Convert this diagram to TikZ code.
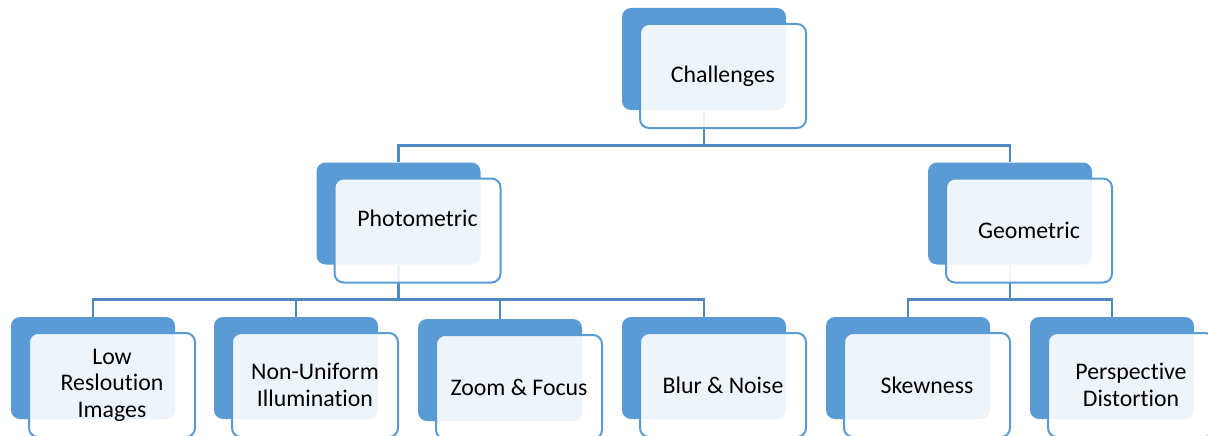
\documentclass[tikz,border=0pt]{standalone}
\usepackage{fontspec}
\setmainfont{Carlito}[Ligatures=NoCommon]
\usetikzlibrary{calc}

\definecolor{smblue}{RGB}{91,155,213}
\definecolor{smline}{RGB}{80,136,196}

\tikzset{
	backbox/.style={rectangle, rounded corners=9pt, fill=smblue, inner sep=0pt,
		minimum width=164pt, minimum height=102pt},
	frontbox/.style={rectangle, rounded corners=9pt, draw=smblue, line width=2pt,
		fill=white, fill opacity=0.9, inner sep=0pt,
		minimum width=166pt, minimum height=104pt},
	boxtext/.style={align=center, text=black, inner sep=0pt,
		font=\fontsize{23.8}{26.5}\selectfont},
	conn/.style={draw=smline, line width=2.6pt}
}

\newcommand{\chback}[3]{
	\node[backbox] (#1) at (#2,#3) {};
}
\newcommand{\chfront}[3]{
	\node[frontbox] (#1f) at ($(#1)+(19,17)$) {};
	\node[boxtext] (#1t) at ($(#1f)+(0,#3)$) {#2};
}

\begin{document}
\begin{tikzpicture}[x=1pt, y=-1pt]
\clip (0,0) rectangle (1208,436);

\pgfmathsetmacro{\rowA}{59}
\pgfmathsetmacro{\rowB}{213.5}
\pgfmathsetmacro{\rowC}{368}

\chback{chal}{704}{\rowA}
\chback{photo}{398.5}{\rowB}
\chback{geo}{1010}{\rowB}
\chback{low}{93}{\rowC}
\chback{nonu}{296}{\rowC}
\chback{zoom}{500}{\rowC+2}
\chback{blur}{704}{\rowC}
\chback{skew}{908}{\rowC}
\chback{persp}{1112}{\rowC}

\foreach \kid in {photo,geo}
	\draw[conn] (chal.south) -- ++(0,35) -| (\kid.north);
\foreach \kid in {low,nonu,zoom,blur}
	\draw[conn] (photo.south) -- ++(0,35) -| (\kid.north);
\foreach \kid in {skew,persp}
	\draw[conn] (geo.south) -- ++(0,35) -| (\kid.north);

\chfront{chal}{Challenges}{0}
\chfront{photo}{Photometric}{-12}
\chfront{geo}{Geometric}{0}
\chfront{low}{Low\\Resloution\\Images}{0}
\chfront{nonu}{Non-Uniform\\Illumination}{0}
\chfront{zoom}{Zoom \& Focus}{0}
\chfront{blur}{Blur \& Noise}{0}
\chfront{skew}{Skewness}{0}
\chfront{persp}{Perspective\\Distortion}{0}
\end{tikzpicture}
\end{document}
